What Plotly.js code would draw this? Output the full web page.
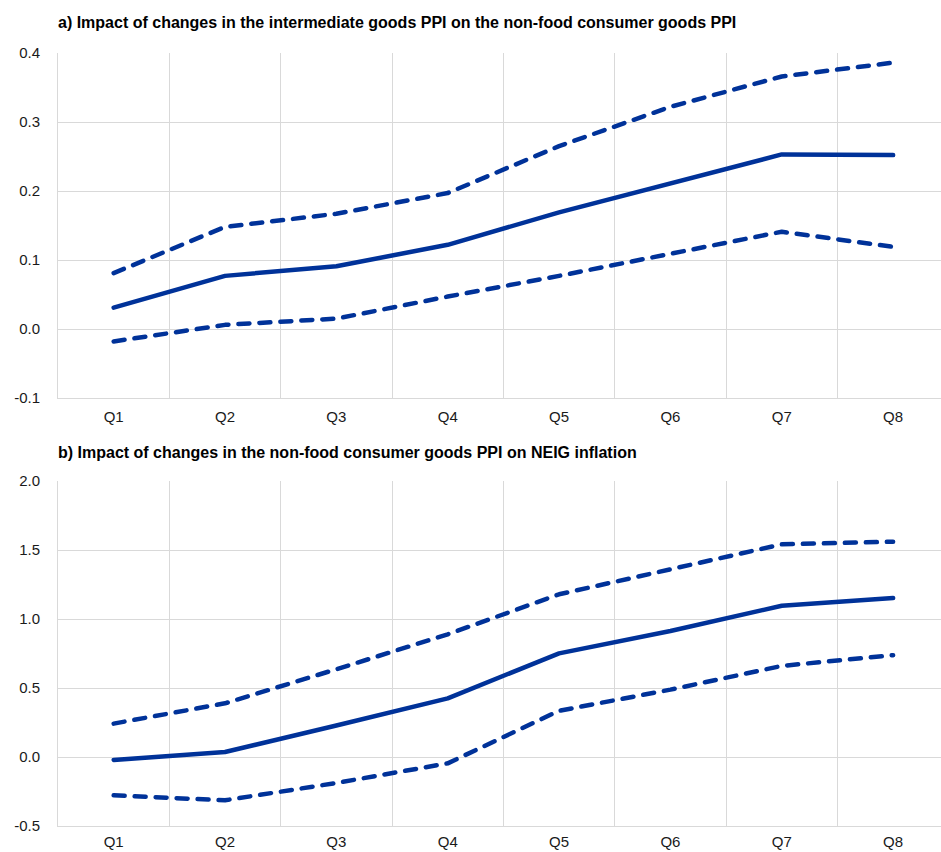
<!DOCTYPE html>
<html>
<head>
<meta charset="utf-8">
<script src="https://cdn.plot.ly/plotly-3.0.1.min.js"></script>
<style>
html, body { margin: 0; padding: 0; background: #fff; }
#chart { width: 941px; height: 852px; }
.scatterlayer path.js-line { stroke-linecap: round; stroke-linejoin: round; }
</style>
</head>
<body>
<div id="chart"></div>
<script>
const quarters = ["Q1", "Q2", "Q3", "Q4", "Q5", "Q6", "Q7", "Q8"];

const titleA = "a) Impact of changes in the intermediate goods PPI on the non-food consumer goods PPI";
const titleB = "b) Impact of changes in the non-food consumer goods PPI on NEIG inflation";

// Panel a)
const aMedian = [0.031, 0.077, 0.091, 0.122, 0.169, 0.211, 0.253, 0.252];
const aUpper  = [0.081, 0.148, 0.167, 0.197, 0.265, 0.322, 0.366, 0.386];
const aLower  = [-0.018, 0.006, 0.015, 0.047, 0.077, 0.109, 0.141, 0.119];
const aTickVals = [-0.1, 0.0, 0.1, 0.2, 0.3, 0.4];
const aTickText = ["-0.1", "0.0", "0.1", "0.2", "0.3", "0.4"];

// Panel b)
const bMedian = [-0.021, 0.036, 0.228, 0.425, 0.751, 0.913, 1.096, 1.152];
const bUpper  = [0.242, 0.389, 0.636, 0.889, 1.179, 1.362, 1.541, 1.560];
const bLower  = [-0.278, -0.314, -0.188, -0.046, 0.335, 0.488, 0.660, 0.738];
const bTickVals = [-0.5, 0.0, 0.5, 1.0, 1.5, 2.0];
const bTickText = ["-0.5", "0.0", "0.5", "1.0", "1.5", "2.0"];

const blue = "#003299";
const dashPat = "11px,10px";

function tr(y, xa, ya, dashed) {
  return {
    x: quarters, y: y, xaxis: xa, yaxis: ya, type: "scatter", mode: "lines",
    line: { color: blue, width: 4.5, dash: dashed ? dashPat : "solid" },
    hoverinfo: "skip", showlegend: false
  };
}

const data = [
  tr(aUpper, "x", "y", true),
  tr(aLower, "x", "y", true),
  tr(aMedian, "x", "y", false),
  tr(bUpper, "x2", "y2", true),
  tr(bLower, "x2", "y2", true),
  tr(bMedian, "x2", "y2", false)
];

const gridCol = "#d9d9d9";
const fam = "Liberation Sans, Arial, sans-serif";
const tickFont = { family: fam, size: 15, color: "#1a1a1a" };

function xax(anchor, standoff) {
  return {
    type: "category", anchor: anchor, range: [-0.5, 7.43],
    tickson: "boundaries", showgrid: true, gridcolor: gridCol, gridwidth: 1,
    showline: true, linecolor: gridCol, linewidth: 1,
    ticks: "", ticklabelstandoff: standoff, tickfont: tickFont, zeroline: false, fixedrange: true
  };
}
function yax(anchor, dom, rng, tv, tt) {
  return {
    anchor: anchor, domain: dom, range: rng, tickmode: "array", tickvals: tv, ticktext: tt,
    showgrid: true, gridcolor: gridCol, gridwidth: 1, zeroline: false,
    showline: true, linecolor: gridCol, linewidth: 1,
    ticks: "", ticklabelstandoff: 14, tickfont: tickFont, fixedrange: true
  };
}

const H = 852;
const layout = {
  width: 941, height: H,
  margin: { l: 58, r: 0, t: 0, b: 0, pad: 0 },
  paper_bgcolor: "#fff", plot_bgcolor: "#fff",
  font: { family: fam, size: 15, color: "#1a1a1a" },
  xaxis: xax("y", 5),
  yaxis: yax("x", [1 - 398 / H, 1 - 53 / H], [-0.1, 0.4], aTickVals, aTickText),
  xaxis2: xax("y2", 2),
  yaxis2: yax("x2", [1 - 826 / H, 1 - 481 / H], [-0.5, 2.0], bTickVals, bTickText),
  annotations: [
    { text: "<b>" + titleA + "</b>", xref: "paper", yref: "paper", x: 0, y: 1 - 22 / H,
      xanchor: "left", yanchor: "middle", showarrow: false, xshift: -2,
      font: { family: fam, size: 16, color: "#000" } },
    { text: "<b>" + titleB + "</b>", xref: "paper", yref: "paper", x: 0, y: 1 - 452.5 / H,
      xanchor: "left", yanchor: "middle", showarrow: false, xshift: -2,
      font: { family: fam, size: 16, color: "#000" } }
  ]
};

Plotly.newPlot("chart", data, layout, { displayModeBar: false, staticPlot: true });
</script>
</body>
</html>
